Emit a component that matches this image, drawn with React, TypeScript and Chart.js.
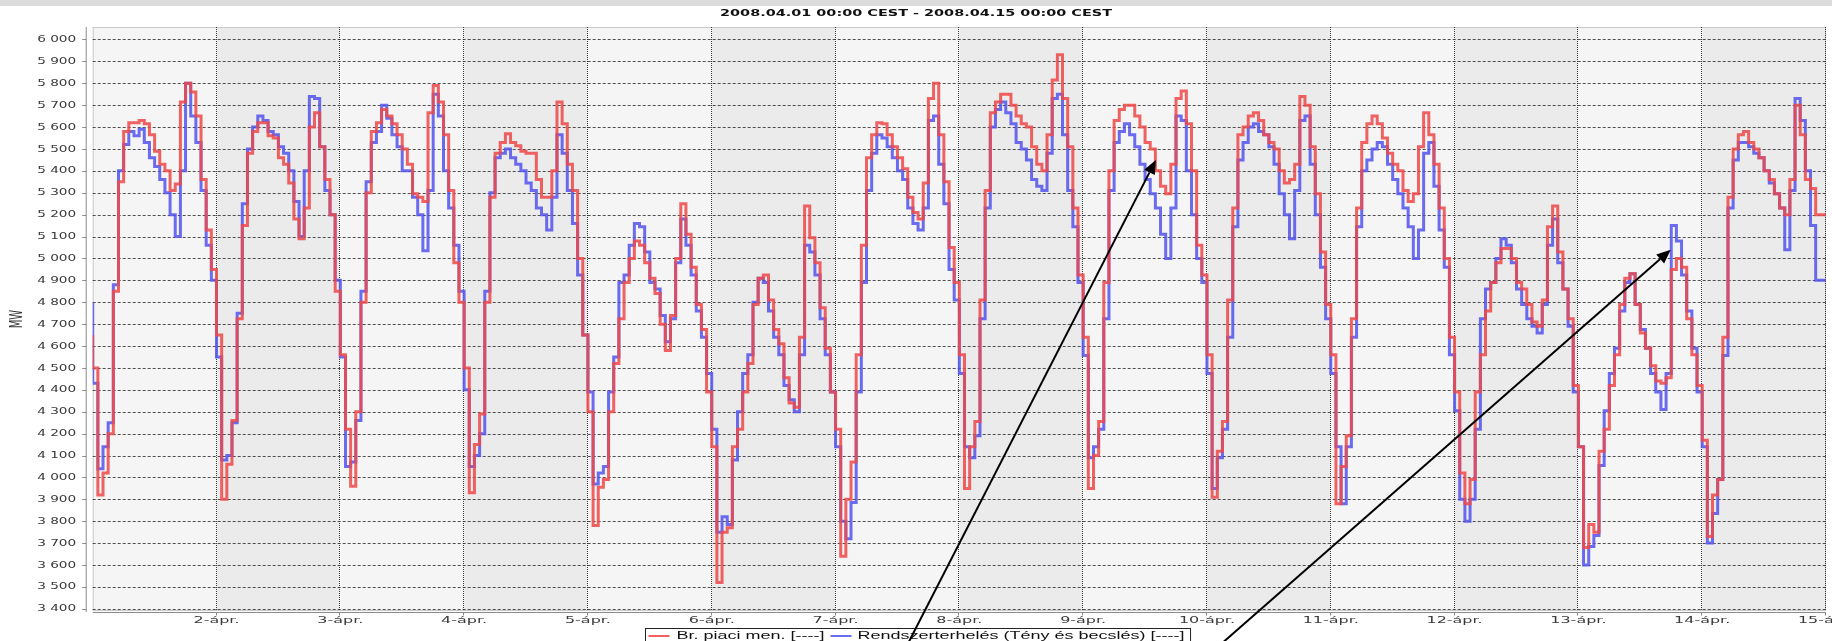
import React, { useEffect, useRef } from 'react';
import { Chart, registerables } from 'chart.js';

Chart.register(...registerables);

const TITLE = '2008.04.01 00:00 CEST - 2008.04.15 00:00 CEST';
const Y_AXIS_TITLE = 'MW';
const seriesNames = ['Br. piaci men. [----]', 'Rendszerterhelés (Tény és becslés) [----]'];
const seriesColors = ['rgba(238,72,72,0.85)', 'rgba(82,82,238,0.85)'];

// day boundaries (hours since 2008.04.01 00:00) and their labels
const dayTickHours = [24, 48, 72, 96, 120, 144, 168, 192, 216, 240, 264, 288, 312, 336];
const dayTickLabels = ['2-ápr.', '3-ápr.', '4-ápr.', '5-ápr.', '6-ápr.', '7-ápr.', '8-ápr.', '9-ápr.', '10-ápr.', '11-ápr.', '12-ápr.', '13-ápr.', '14-ápr.', '15-ápr.'];
const yTickValues = [3400, 3500, 3600, 3700, 3800, 3900, 4000, 4100, 4200, 4300, 4400, 4500, 4600, 4700, 4800, 4900, 5000, 5100, 5200, 5300, 5400, 5500, 5600, 5700, 5800, 5900, 6000];

// Br. piaci men. (hourly, MW) – one row per day
const brPiaciMen = [
  4650, 4500, 3920, 4020, 4200, 4850, 5350, 5580, 5620, 5620, 5630, 5615, 5565, 5490, 5430, 5400, 5310, 5340, 5715, 5800, 5760, 5650, 5360, 5130,
  4950, 4650, 3900, 4060, 4260, 4725, 5150, 5480, 5580, 5620, 5620, 5560, 5550, 5460, 5430, 5345, 5180, 5090, 5230, 5600, 5665, 5510, 5360, 5200,
  4850, 4560, 4220, 3960, 4300, 4800, 5300, 5580, 5620, 5680, 5650, 5615, 5565, 5500, 5430, 5295, 5280, 5260, 5665, 5790, 5715, 5565, 5310, 4980,
  4800, 4500, 3930, 4150, 4290, 4800, 5280, 5480, 5530, 5570, 5530, 5515, 5490, 5480, 5480, 5360, 5280, 5280, 5400, 5715, 5615, 5430, 5310, 5000,
  4650, 4300, 3780, 3955, 3990, 4300, 4520, 4725, 4890, 5000, 5080, 5060, 4980, 4910, 4840, 4700, 4580, 4740, 5000, 5250, 5110, 4960, 4790, 4675,
  4390, 4140, 3520, 3750, 3770, 4140, 4220, 4390, 4520, 4790, 4910, 4925, 4810, 4675, 4610, 4455, 4340, 4320, 4640, 5240, 5095, 4980, 4775, 4590,
  4390, 4220, 3640, 3900, 4070, 4560, 5060, 5460, 5565, 5620, 5615, 5565, 5510, 5460, 5410, 5280, 5210, 5180, 5345, 5730, 5800, 5565, 5350, 5050,
  4890, 4560, 3950, 4140, 4255, 4810, 5310, 5665, 5715, 5750, 5750, 5700, 5650, 5615, 5600, 5510, 5430, 5400, 5565, 5815, 5930, 5730, 5510, 5230,
  4925, 4640, 3950, 4100, 4255, 4890, 5400, 5630, 5680, 5700, 5700, 5650, 5600, 5530, 5500, 5400, 5330, 5295, 5430, 5730, 5765, 5615, 5400, 5060,
  4925, 4560, 3910, 4120, 4255, 4810, 5230, 5565, 5600, 5650, 5665, 5630, 5565, 5530, 5500, 5400, 5345, 5360, 5430, 5740, 5700, 5510, 5295, 5030,
  4790, 4560, 3880, 4050, 4190, 4725, 5230, 5530, 5615, 5650, 5615, 5550, 5480, 5430, 5400, 5310, 5260, 5295, 5510, 5665, 5565, 5430, 5230, 5000,
  4640, 4390, 4020, 3880, 3990, 4390, 4560, 4760, 4890, 4980, 5045, 5045, 5000, 4890, 4860, 4790, 4710, 4690, 4810, 5145, 5240, 5030, 4860, 4725,
  4420, 4140, 3680, 3785, 3750, 4120, 4220, 4420, 4560, 4790, 4910, 4930, 4790, 4660, 4590, 4510, 4440, 4430, 4455, 4950, 5000, 4960, 4725, 4560,
  4420, 4170, 3730, 3920, 3990, 4640, 5280, 5500, 5565, 5580, 5530, 5500, 5460, 5400, 5360, 5295, 5230, 5200, 5360, 5700, 5565, 5360, 5320, 5200,
];

// Rendszerterhelés (Tény és becslés) (hourly, MW) – one row per day
const rendszerterheles = [
  4800, 4430, 4040, 4140, 4250, 4880, 5400, 5520, 5580, 5560, 5590, 5530, 5460, 5420, 5360, 5300, 5200, 5100, 5400, 5800, 5650, 5530, 5310, 5060,
  4900, 4550, 4080, 4100, 4250, 4750, 5250, 5500, 5600, 5650, 5630, 5580, 5565, 5510, 5480, 5400, 5260, 5100, 5400, 5740, 5730, 5510, 5310, 5200,
  4900, 4550, 4050, 4070, 4260, 4850, 5350, 5530, 5580, 5700, 5640, 5565, 5510, 5400, 5400, 5280, 5200, 5035, 5310, 5750, 5650, 5400, 5230, 5060,
  4850, 4400, 4050, 4100, 4200, 4850, 5300, 5460, 5480, 5500, 5460, 5430, 5400, 5345, 5310, 5230, 5200, 5130, 5280, 5565, 5480, 5310, 5160, 4925,
  4650, 4390, 3970, 4020, 4050, 4390, 4550, 4890, 4925, 5060, 5160, 5145, 5030, 4890, 4860, 4740, 4620, 4725, 4980, 5180, 5060, 4925, 4760, 4640,
  4475, 4220, 3750, 3820, 3785, 4080, 4300, 4475, 4560, 4800, 4910, 4890, 4760, 4640, 4560, 4420, 4355, 4300, 4560, 5060, 5030, 4925, 4725, 4560,
  4390, 4140, 3800, 3720, 3885, 4390, 4890, 5310, 5480, 5565, 5550, 5510, 5460, 5400, 5360, 5230, 5160, 5130, 5230, 5630, 5650, 5430, 5250, 4950,
  4810, 4475, 4140, 4090, 4190, 4725, 5230, 5600, 5680, 5715, 5665, 5615, 5530, 5500, 5450, 5360, 5330, 5310, 5480, 5730, 5750, 5565, 5310, 5145,
  4890, 4557, 4090, 4140, 4220, 4725, 5310, 5530, 5580, 5615, 5565, 5510, 5430, 5360, 5295, 5230, 5110, 5000, 5230, 5650, 5630, 5400, 5200, 5000,
  4890, 4475, 3950, 4090, 4220, 4640, 5145, 5450, 5530, 5600, 5615, 5580, 5565, 5510, 5430, 5295, 5200, 5090, 5310, 5630, 5650, 5430, 5200, 4960,
  4725, 4475, 4140, 3880, 4140, 4640, 5145, 5400, 5450, 5500, 5530, 5510, 5430, 5360, 5295, 5230, 5145, 5000, 5130, 5480, 5530, 5330, 5130, 4960,
  4560, 4305, 3900, 3800, 3900, 4220, 4725, 4860, 4890, 5000, 5090, 5060, 4980, 4860, 4790, 4725, 4690, 4660, 4790, 5060, 5180, 4980, 4860, 4690,
  4390, 4140, 3600, 3685, 3735, 4055, 4305, 4475, 4590, 4760, 4890, 4930, 4790, 4675, 4590, 4475, 4390, 4310, 4475, 5150, 5080, 4925, 4760, 4590,
  4390, 4140, 3700, 3835, 3990, 4557, 5230, 5450, 5530, 5530, 5510, 5480, 5460, 5400, 5345, 5295, 5230, 5040, 5310, 5730, 5630, 5400, 5150, 4900,
];

// annotation arrows (hour, MW): from below the chart to the tip
const arrowNotes = [
  { fromHour: 156.4, fromMW: 3166, toHour: 206.1, toMW: 5450 },
  { fromHour: 215.2, fromMW: 3166, toHour: 305.9, toMW: 5040 },
];

const toPoints = (vals: number[]) => {
  const pts = vals.map((v, i) => ({ x: i, y: v }));
  pts.push({ x: vals.length, y: vals[vals.length - 1] });
  return pts;
};

const fmtMW = (v: number) => `${Math.floor(v / 1000)} ${String(v % 1000).padStart(3, '0')}`;

function stretchedText(ctx: CanvasRenderingContext2D, text: string, x: number, y: number, font: string, sx: number, align: 'left' | 'center' | 'right', color: string) {
  ctx.save();
  ctx.font = font;
  ctx.fillStyle = color;
  ctx.textBaseline = 'middle';
  ctx.textAlign = 'left';
  const w = ctx.measureText(text).width * sx;
  const left = align === 'right' ? x - w : align === 'center' ? x - w / 2 : x;
  ctx.translate(left, y);
  ctx.scale(sx, 1);
  ctx.fillText(text, 0, 0);
  ctx.restore();
  return w;
}

const fitSX = (ctx: CanvasRenderingContext2D, font: string, sample: string, target: number) => {
  ctx.save();
  ctx.font = font;
  const w = ctx.measureText(sample).width;
  ctx.restore();
  return target / w;
};

const decorPlugin = {
  id: 'decor',
  beforeDraw(chart: any) {
    const ctx = chart.ctx as CanvasRenderingContext2D;
    ctx.save();
    ctx.fillStyle = '#ffffff';
    ctx.fillRect(0, 0, chart.width, chart.height);
    ctx.fillStyle = '#dcdcdc';
    ctx.fillRect(0, 0, chart.width, 6);
    ctx.restore();
  },
  beforeDatasetsDraw(chart: any) {
    const ctx = chart.ctx as CanvasRenderingContext2D;
    const { left, right, top, bottom } = chart.chartArea;
    const xs = chart.scales.x;
    const ys = chart.scales.y;
    ctx.save();
    // alternating day bands
    const bands = [0, ...dayTickHours];
    for (let i = 0; i < bands.length - 1; i++) {
      const x0 = xs.getPixelForValue(bands[i]);
      const x1 = xs.getPixelForValue(bands[i + 1]);
      ctx.fillStyle = i % 2 === 0 ? '#f5f5f5' : '#ebebeb';
      ctx.fillRect(x0, top, x1 - x0, bottom - top);
    }
    // plot border
    ctx.strokeStyle = '#c9c9c9';
    ctx.lineWidth = 1;
    ctx.strokeRect(left + 0.5, top + 0.5, right - left - 1, bottom - top - 1);
    // horizontal dashed grid
    ctx.strokeStyle = 'rgba(50,50,50,0.85)';
    ctx.setLineDash([3, 2]);
    for (const v of yTickValues) {
      const y = Math.round(ys.getPixelForValue(v)) + 0.5;
      ctx.beginPath();
      ctx.moveTo(left, y);
      ctx.lineTo(right, y);
      ctx.stroke();
    }
    // vertical dotted day lines
    ctx.strokeStyle = 'rgba(40,40,40,0.9)';
    ctx.setLineDash([1, 1]);
    for (const h of dayTickHours) {
      const x = Math.round(xs.getPixelForValue(h)) - 0.5;
      ctx.beginPath();
      ctx.moveTo(x, top);
      ctx.lineTo(x, bottom);
      ctx.stroke();
    }
    ctx.setLineDash([]);
    // axis lines and tick marks
    ctx.strokeStyle = '#8a8a8a';
    const axX = left - 6.5;
    ctx.beginPath();
    ctx.moveTo(axX, top);
    ctx.lineTo(axX, bottom + 1);
    ctx.stroke();
    for (const v of yTickValues) {
      const y = Math.round(ys.getPixelForValue(v)) + 0.5;
      ctx.beginPath();
      ctx.moveTo(axX - 4, y);
      ctx.lineTo(axX, y);
      ctx.stroke();
    }
    const axY = bottom + 1.5;
    ctx.beginPath();
    ctx.moveTo(left, axY);
    ctx.lineTo(right, axY);
    ctx.stroke();
    for (const h of dayTickHours) {
      const x = Math.round(xs.getPixelForValue(h)) - 0.5;
      ctx.beginPath();
      ctx.moveTo(x, axY);
      ctx.lineTo(x, axY + 3);
      ctx.stroke();
    }
    // y tick labels
    const yFont = '8px "DejaVu Sans"';
    const sxY = fitSX(ctx, yFont, '6 000', 39);
    for (const v of yTickValues) {
      stretchedText(ctx, fmtMW(v), axX - 10, ys.getPixelForValue(v) + 0.5, yFont, sxY, 'right', '#3a3a3a');
    }
    // x tick labels
    const xFont = '8px "DejaVu Sans"';
    const sxX = fitSX(ctx, xFont, '2-ápr.', 46);
    dayTickHours.forEach((h, i) => {
      stretchedText(ctx, dayTickLabels[i], xs.getPixelForValue(h), bottom + 9.5, xFont, sxX, 'center', '#3a3a3a');
    });
    // y axis title
    ctx.save();
    ctx.font = '10px "DejaVu Sans"';
    ctx.fillStyle = '#333';
    ctx.textAlign = 'center';
    ctx.textBaseline = 'middle';
    ctx.translate(18, (top + bottom) / 2);
    ctx.scale(1.7, 1);
    ctx.rotate(-Math.PI / 2);
    ctx.fillText(Y_AXIS_TITLE, 0, 0);
    ctx.restore();
    // title
    const tFont = 'bold 9px "DejaVu Sans"';
    const sxT = fitSX(ctx, tFont, TITLE, 392);
    stretchedText(ctx, TITLE, 916, 14, tFont, sxT, 'center', '#111');
    ctx.restore();
  },
  afterDraw(chart: any) {
    const ctx = chart.ctx as CanvasRenderingContext2D;
    const xs = chart.scales.x;
    const ys = chart.scales.y;
    ctx.save();
    // legend
    const lFont = '10px "Liberation Sans"';
    const sxL = fitSX(ctx, lFont, seriesNames[0], 148);
    ctx.font = lFont;
    const w0 = ctx.measureText(seriesNames[0]).width * sxL;
    const w1 = ctx.measureText(seriesNames[1]).width * sxL;
    const total = 3 + 21 + 7 + w0 + 6 + 21 + 6 + w1 + 6;
    const bx = Math.round(917.5 - total / 2) + 0.5;
    const by = 628.5;
    ctx.fillStyle = '#ffffff';
    ctx.fillRect(bx, by, total, 30);
    ctx.strokeStyle = '#222';
    ctx.lineWidth = 1;
    ctx.strokeRect(bx, by, total, 30);
    const ly = 636;
    let cx = bx + 3;
    ctx.lineWidth = 2;
    ctx.strokeStyle = seriesColors[0];
    ctx.beginPath(); ctx.moveTo(cx, ly); ctx.lineTo(cx + 21, ly); ctx.stroke();
    cx += 28;
    stretchedText(ctx, seriesNames[0], cx, ly, lFont, sxL, 'left', '#111');
    cx += w0 + 6;
    ctx.strokeStyle = seriesColors[1];
    ctx.beginPath(); ctx.moveTo(cx, ly); ctx.lineTo(cx + 21, ly); ctx.stroke();
    cx += 27;
    stretchedText(ctx, seriesNames[1], cx, ly, lFont, sxL, 'left', '#111');
    // arrows
    ctx.strokeStyle = '#000';
    ctx.fillStyle = '#000';
    ctx.lineWidth = 2;
    for (const a of arrowNotes) {
      const x0 = xs.getPixelForValue(a.fromHour);
      const y0 = ys.getPixelForValue(a.fromMW);
      const x1 = xs.getPixelForValue(a.toHour);
      const y1 = ys.getPixelForValue(a.toMW);
      const ang = Math.atan2(y1 - y0, x1 - x0);
      const len = 14;
      const hw = 6;
      const bxh = x1 - len * Math.cos(ang);
      const byh = y1 - len * Math.sin(ang);
      ctx.beginPath();
      ctx.moveTo(x0, y0);
      ctx.lineTo(bxh, byh);
      ctx.stroke();
      ctx.beginPath();
      ctx.moveTo(x1, y1);
      ctx.lineTo(bxh + hw * Math.sin(ang), byh - hw * Math.cos(ang));
      ctx.lineTo(bxh - hw * Math.sin(ang), byh + hw * Math.cos(ang));
      ctx.closePath();
      ctx.fill();
    }
    ctx.restore();
  },
};

export default function App() {
  const ref = useRef<HTMLCanvasElement | null>(null);
  useEffect(() => {
    document.body.style.margin = '0';
    const canvas = ref.current;
    if (!canvas) return;
    const chart = new Chart(canvas, {
      type: 'line',
      data: {
        datasets: [
          {
            label: seriesNames[0],
            data: toPoints(brPiaciMen),
            borderColor: seriesColors[0],
            borderWidth: 3,
            stepped: 'after',
            pointRadius: 0,
            fill: false,
          },
          {
            label: seriesNames[1],
            data: toPoints(rendszerterheles),
            borderColor: seriesColors[1],
            borderWidth: 3,
            stepped: 'after',
            pointRadius: 0,
            fill: false,
          },
        ],
      },
      options: {
        animation: false,
        responsive: false,
        devicePixelRatio: 1,
        layout: { padding: { top: 27, right: 6, left: 0, bottom: 0 } },
        scales: {
          x: {
            type: 'linear',
            min: 0,
            max: 336,
            ticks: { display: false },
            grid: { display: false },
            border: { display: false },
            afterFit: (s: any) => { s.height = 30; },
          },
          y: {
            type: 'linear',
            min: 3390,
            max: 6057,
            ticks: { display: false },
            grid: { display: false },
            border: { display: false },
            afterFit: (s: any) => { s.width = 92.7; },
          },
        },
        plugins: {
          legend: { display: false },
          title: { display: false },
          tooltip: { enabled: false },
        },
      },
      plugins: [decorPlugin],
    } as any);
    return () => chart.destroy();
  }, []);
  return (
    <div style={{ position: 'fixed', left: 0, top: 0, width: 1832, height: 641, background: '#fff' }}>
      <canvas ref={ref} width={1832} height={641} style={{ display: 'block', width: 1832, height: 641 }} />
    </div>
  );
}
